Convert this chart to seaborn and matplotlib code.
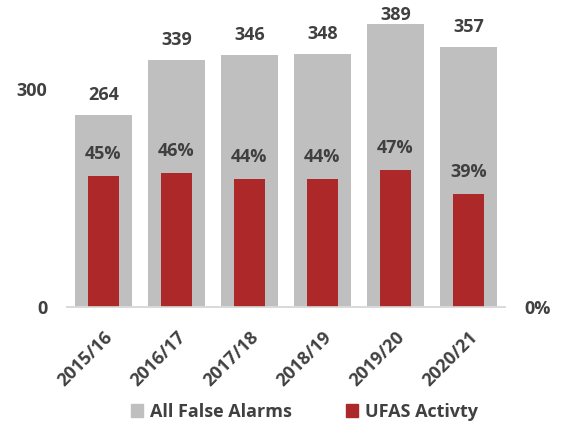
import matplotlib

matplotlib.use("Agg")

import matplotlib.pyplot as plt
import pandas as pd
import seaborn as sns
from matplotlib.patches import Patch

years = ["2015/16", "2016/17", "2017/18", "2018/19", "2019/20", "2020/21"]
all_false_alarms = [264, 339, 346, 348, 389, 357]
ufas_pct = [45, 46, 44, 44, 47, 39]

GREY = "#BFBFBF"
RED = "#AD2828"
TXT = "#404040"

sns.set_theme(style="white")
plt.rcParams["font.family"] = ["Open Sans", "DejaVu Sans"]

df = pd.DataFrame({"year": years, "alarms": all_false_alarms, "ufas": ufas_pct})

fig = plt.figure(figsize=(5.61, 4.23), dpi=100)
ax = fig.add_axes([0.119, 0.274, 0.781, 0.688])
ax2 = ax.twinx()

sns.barplot(data=df, x="year", y="alarms", color=GREY, width=0.78,
            saturation=1, linewidth=0, ax=ax)
sns.barplot(data=df, x="year", y="ufas", color=RED, width=0.42,
            saturation=1, linewidth=0, ax=ax2)

ax.set_ylim(0, 400)
ax2.set_ylim(0, 100)
ax.set_xlim(-0.5, 5.5)

# value labels above the grey bars; keep the tallest one inside the figure
for i, v in enumerate(all_false_alarms):
    ax.text(i, min(v + 28, 401), f"{v}", ha="center", va="center",
            fontsize=13, fontweight="bold", color=TXT)
for i, p in enumerate(ufas_pct):
    ax2.text(i, p + 7.5, f"{p}%", ha="center", va="center",
             fontsize=13, fontweight="bold", color=TXT)

ax.set_yticks([0, 300])
ax.set_yticklabels(["0", "300"])
ax2.set_yticks([0])
ax2.set_yticklabels(["0%"])

for a in (ax, ax2):
    a.set_xlabel("")
    a.set_ylabel("")
    for s in a.spines.values():
        s.set_visible(False)
    a.tick_params(axis="both", length=0, labelsize=13, labelcolor=TXT)
    for lab in a.get_yticklabels():
        lab.set_fontweight("bold")

ax.tick_params(axis="y", pad=14)
ax2.tick_params(axis="y", pad=14)
for a in (ax, ax2):
    a.spines["bottom"].set_visible(True)
    a.spines["bottom"].set_color("#D9D9D9")
    a.spines["bottom"].set_linewidth(1.2)

ax.set_xticks(range(len(years)))
ax.set_xticklabels(years, rotation=45, ha="right", rotation_mode="anchor",
                   fontweight="bold", fontsize=13, color=TXT)
ax.tick_params(axis="x", pad=15)

handles = [Patch(color=GREY, label="All False Alarms"),
           Patch(color=RED, label="UFAS Activty")]
leg = fig.legend(handles=handles, loc="center", bbox_to_anchor=(0.542, 0.026),
                 ncol=2, frameon=False, fontsize=13, handlelength=0.7,
                 handleheight=0.7, handletextpad=0.35, columnspacing=3.0)
for t in leg.get_texts():
    t.set_color(TXT)
    t.set_fontweight("bold")

fig.savefig("out.png", dpi=100)
